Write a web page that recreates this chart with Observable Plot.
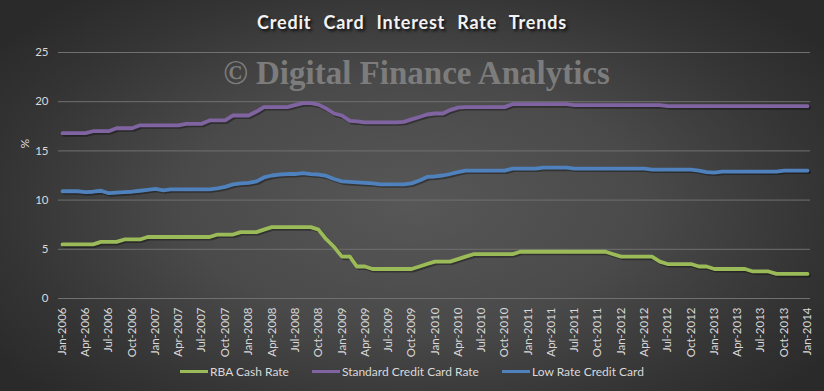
<!DOCTYPE html>
<html>
<head>
<meta charset="utf-8">
<script src="https://cdn.jsdelivr.net/npm/d3@7"></script>
<script src="https://cdn.jsdelivr.net/npm/@observablehq/plot@0.6"></script>
<style>
  html, body { margin: 0; padding: 0; background: #2a2a2a; }
  #wrap {
    position: relative; width: 824px; height: 391px; overflow: hidden;
    background: radial-gradient(ellipse 62% 70% at 50% 52%, #575757 0%, #4a4a4a 45%, #343434 80%, #2a2a2a 100%);
    font-family: Lato, "Open Sans", sans-serif;
  }
  #title {
    position: absolute; left: 0; width: 824px; top: 11px; text-align: center;
    color: #f2f2f2; font: bold 18px Lato, sans-serif; letter-spacing: 0.8px; word-spacing: 7px;
    text-shadow: 2px 2px 3px rgba(0,0,0,0.8);
  }
  #legend {
    position: absolute; left: 0; width: 824px; top: 364px; display: flex; justify-content: center;
    gap: 23px; color: #d9d9d9; font: 12px Lato, sans-serif;
  }
  #legend .item { display: flex; align-items: center; }
  #legend .sw { width: 28px; height: 3.5px; margin-right: 2px; }
  svg { position: absolute; left: 0; top: 0; }
</style>
</head>
<body>
<div id="wrap">
  <div id="chart"></div>
  <div id="title">Credit Card Interest Rate Trends</div>
  <div id="legend"></div>
</div>
<script>
// Monthly, Jan-2006 .. Jan-2014 (97 months)
const startYear = 2006;
const monthCount = 97;
const seriesNames = ["RBA Cash Rate", "Standard Credit Card Rate", "Low Rate Credit Card"];
const seriesColors = ["#9bbb59", "#8064a2", "#4f81bd"];

const rbaCash = [
  5.5, 5.5, 5.5, 5.5, 5.5, 5.75, 5.75, 5.75, 6.0, 6.0, 6.0, 6.25,
  6.25, 6.25, 6.25, 6.25, 6.25, 6.25, 6.25, 6.25, 6.5, 6.5, 6.5, 6.75,
  6.75, 6.75, 7.0, 7.25, 7.25, 7.25, 7.25, 7.25, 7.25, 7.0, 6.0, 5.25,
  4.25, 4.25, 3.25, 3.25, 3.0, 3.0, 3.0, 3.0, 3.0, 3.0, 3.25, 3.5,
  3.75, 3.75, 3.75, 4.0, 4.25, 4.5, 4.5, 4.5, 4.5, 4.5, 4.5, 4.75,
  4.75, 4.75, 4.75, 4.75, 4.75, 4.75, 4.75, 4.75, 4.75, 4.75, 4.75, 4.5,
  4.25, 4.25, 4.25, 4.25, 4.25, 3.75, 3.5, 3.5, 3.5, 3.5, 3.25, 3.25,
  3.0, 3.0, 3.0, 3.0, 3.0, 2.75, 2.75, 2.75, 2.5, 2.5, 2.5, 2.5,
  2.5
];
const standardCard = [
  16.8, 16.8, 16.8, 16.8, 17.0, 17.0, 17.0, 17.3, 17.3, 17.3, 17.6, 17.6,
  17.6, 17.6, 17.6, 17.6, 17.75, 17.75, 17.75, 18.1, 18.1, 18.1, 18.6, 18.6,
  18.6, 19.0, 19.45, 19.45, 19.45, 19.45, 19.65, 19.85, 19.85, 19.7, 19.3, 18.8,
  18.6, 18.05, 18.0, 17.9, 17.9, 17.9, 17.9, 17.9, 17.95, 18.2, 18.45, 18.7,
  18.8, 18.8, 19.15, 19.4, 19.45, 19.45, 19.45, 19.45, 19.45, 19.45, 19.75, 19.75,
  19.75, 19.75, 19.75, 19.75, 19.75, 19.75, 19.65, 19.65, 19.65, 19.65, 19.65, 19.65,
  19.65, 19.65, 19.65, 19.65, 19.65, 19.65, 19.55, 19.55, 19.55, 19.55, 19.55, 19.55,
  19.55, 19.55, 19.55, 19.55, 19.55, 19.55, 19.55, 19.55, 19.55, 19.55, 19.55, 19.55,
  19.55
];
const lowRateCard = [
  10.9, 10.9, 10.9, 10.8, 10.85, 10.95, 10.7, 10.75, 10.8, 10.85, 10.95, 11.05,
  11.15, 11.0, 11.1, 11.1, 11.1, 11.1, 11.1, 11.1, 11.2, 11.35, 11.6, 11.7,
  11.75, 11.9, 12.3, 12.5, 12.6, 12.65, 12.65, 12.75, 12.65, 12.6, 12.45, 12.15,
  11.9, 11.85, 11.8, 11.75, 11.7, 11.6, 11.6, 11.6, 11.6, 11.7, 12.0, 12.35,
  12.4, 12.5, 12.65, 12.85, 13.0, 13.0, 13.0, 13.0, 13.0, 13.0, 13.2, 13.2,
  13.2, 13.2, 13.3, 13.3, 13.3, 13.3, 13.2, 13.2, 13.2, 13.2, 13.2, 13.2,
  13.2, 13.2, 13.2, 13.2, 13.1, 13.1, 13.1, 13.1, 13.1, 13.1, 13.0, 12.85,
  12.8, 12.9, 12.9, 12.9, 12.9, 12.9, 12.9, 12.9, 12.9, 13.0, 13.0, 13.0,
  13.0
];
const yTicks = [0, 5, 10, 15, 20, 25];
const watermark = "\u00A9 Digital Finance Analytics";
const yLabel = "%";

const months = d3.range(monthCount).map(i => new Date(Date.UTC(startYear, i, 1)));
const xTicks = months.filter((d, i) => i % 3 === 0);
const seriesValues = [rbaCash, standardCard, lowRateCard];
const rows = [];
seriesNames.forEach((name, s) => {
  seriesValues[s].forEach((v, i) => rows.push({series: name, date: months[i], value: v}));
});

const fmt = d3.utcFormat("%b-%Y");

const chart = Plot.plot({
  width: 824,
  height: 391,
  marginLeft: 58,
  marginRight: 14,
  marginTop: 52,
  marginBottom: 93,
  insetLeft: 4,
  insetRight: 3,
  style: {background: "transparent", fontFamily: "Lato, 'Open Sans', sans-serif", fontSize: "11.5px", color: "#d9d9d9"},
  x: {type: "utc", domain: [months[0], months[monthCount - 1]]},
  y: {domain: [0, 25]},
  color: {domain: seriesNames, range: seriesColors},
  marks: [
    Plot.ruleY(yTicks, {stroke: "#707070", strokeWidth: 1}),
    Plot.text([watermark], {frameAnchor: "top", dy: 8, dx: -18, text: d => d,
      fontFamily: "'Liberation Serif', 'DejaVu Serif', serif", fontWeight: "bold", fontSize: 33,
      fill: "#7c7c7c", letterSpacing: "0.4px"}),
    Plot.axisY({ticks: yTicks, tickSize: 0, tickPadding: 10, label: null, fill: "#d9d9d9", fontSize: 11.5}),
    Plot.text([yLabel], {frameAnchor: "left", dx: -33, dy: -27, rotate: -90, text: d => d, fill: "#d9d9d9", fontSize: 12}),
    Plot.axisX({ticks: xTicks, tickFormat: fmt, tickSize: 0, tickPadding: 9, tickRotate: -90, label: null, fill: "#d9d9d9", fontSize: 11.5}),
    Plot.line(rows, {x: "date", y: "value", z: "series", stroke: "black", strokeOpacity: 0.35, strokeWidth: 4, dx: 1.5, dy: 1.5}),
    Plot.line(rows, {x: "date", y: "value", z: "series", stroke: "series", strokeWidth: 3.8})
  ]
});
document.getElementById("chart").appendChild(chart);

const legend = document.getElementById("legend");
seriesNames.forEach((name, i) => {
  const item = document.createElement("div");
  item.className = "item";
  const sw = document.createElement("span");
  sw.className = "sw";
  sw.style.background = seriesColors[i];
  const lab = document.createElement("span");
  lab.textContent = name;
  item.appendChild(sw);
  item.appendChild(lab);
  legend.appendChild(item);
});
</script>
</body>
</html>
